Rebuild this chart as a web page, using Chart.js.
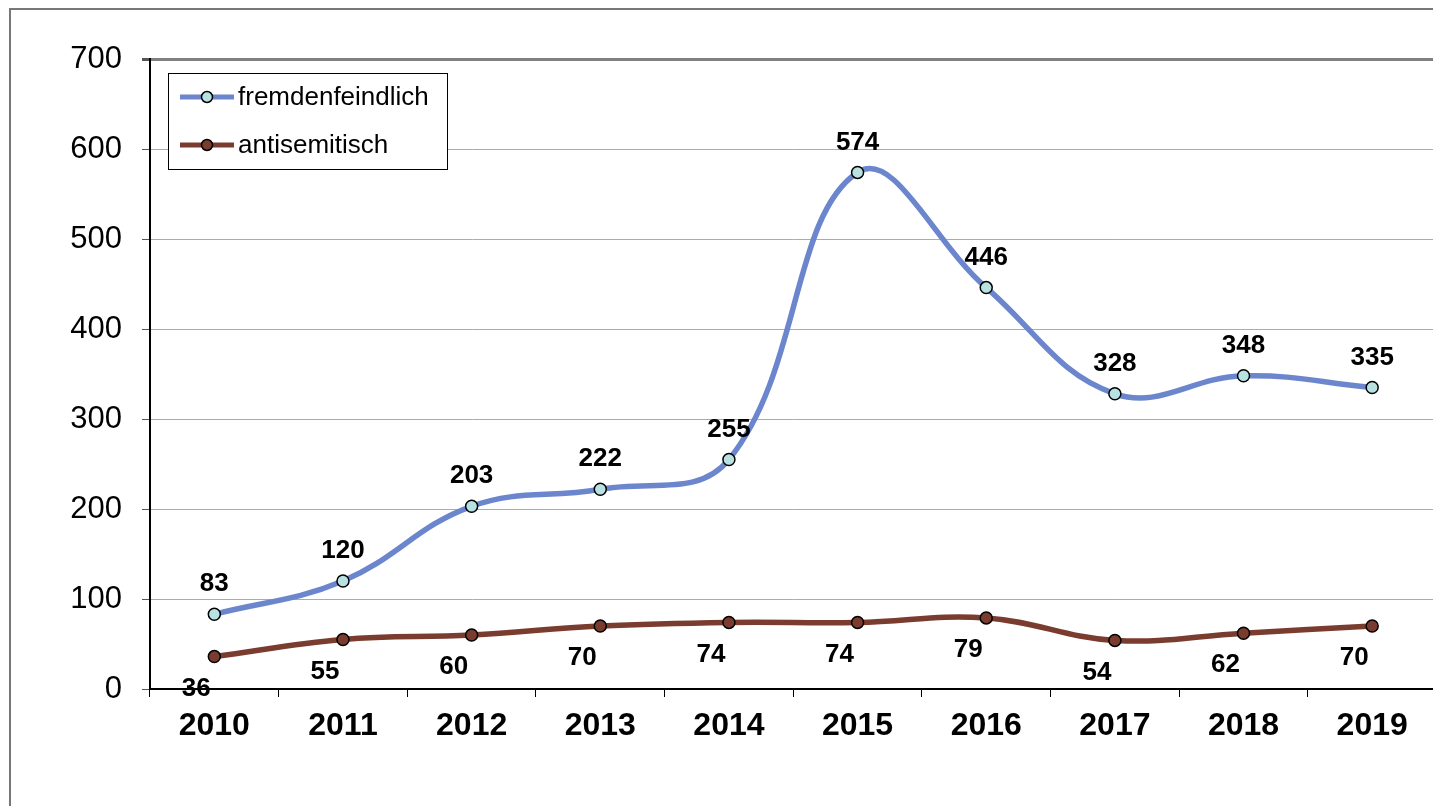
<!DOCTYPE html>
<html>
<head>
<meta charset="utf-8">
<script src="https://cdn.jsdelivr.net/npm/chart.js@4.4.1/dist/chart.umd.min.js"></script>
<style>
  html, body { margin: 0; padding: 0; background: #fff; overflow: hidden; }
  #wrap { position: absolute; left: 0; top: 0; width: 1444px; height: 806px; }
</style>
</head>
<body>
<div id="wrap"><canvas id="c" width="1444" height="806"></canvas></div>
<script>
'use strict';

var YEARS = ['2010', '2011', '2012', '2013', '2014', '2015', '2016', '2017', '2018', '2019'];
var FREMD = [83, 120, 203, 222, 255, 574, 446, 328, 348, 335];
var ANTI = [36, 55, 60, 70, 74, 74, 79, 54, 62, 70];
var SERIES_NAMES = ['fremdenfeindlich', 'antisemitisch'];
var Y_TICKS = [0, 100, 200, 300, 400, 500, 600, 700];

var FONT = 'Liberation Sans, Arial, sans-serif';
var BLUE = '#6C86CE', BLUE_FILL = '#B8E2E2';
var BROWN = '#7A3C2F';

// frame + white background
var framePlugin = {
  id: 'frame',
  beforeDraw: function (chart) {
    var ctx = chart.ctx;
    ctx.save();
    ctx.fillStyle = '#fff';
    ctx.fillRect(0, 0, chart.width, chart.height);
    ctx.strokeStyle = '#777';
    ctx.lineWidth = 2;
    ctx.beginPath();
    ctx.moveTo(10, chart.height);
    ctx.lineTo(10, 9);
    ctx.lineTo(chart.width, 9);
    ctx.stroke();
    ctx.restore();
  }
};

// value labels: blue above, brown below-left
var labelPlugin = {
  id: 'vlabels',
  afterDatasetsDraw: function (chart) {
    var ctx = chart.ctx;
    ctx.save();
    ctx.font = 'bold 26px ' + FONT;
    ctx.fillStyle = '#000';
    ctx.textAlign = 'center';
    ctx.textBaseline = 'middle';
    chart.data.datasets.forEach(function (ds, i) {
      var meta = chart.getDatasetMeta(i);
      meta.data.forEach(function (pt, j) {
        if (i === 0) ctx.fillText(String(ds.data[j]), pt.x, pt.y - 30);
        else ctx.fillText(String(ds.data[j]), pt.x - 18, pt.y + 32);
      });
    });
    ctx.restore();
  }
};

// legend box inside plot
var legendPlugin = {
  id: 'boxLegend',
  afterDraw: function (chart) {
    var ctx = chart.ctx;
    var ds = chart.data.datasets;
    ctx.save();
    ctx.fillStyle = '#fff';
    ctx.fillRect(168, 73, 279, 96);
    ctx.strokeStyle = '#000';
    ctx.lineWidth = 1;
    ctx.strokeRect(168.5, 73.5, 279, 96);
    ds.forEach(function (d, i) {
      var y = 97 + i * 48;
      ctx.strokeStyle = d.borderColor;
      ctx.lineWidth = 5;
      ctx.beginPath();
      ctx.moveTo(180, y);
      ctx.lineTo(234, y);
      ctx.stroke();
      ctx.beginPath();
      ctx.arc(207, y, 5.5, 0, Math.PI * 2);
      ctx.fillStyle = d.pointBackgroundColor;
      ctx.fill();
      ctx.lineWidth = 1.5;
      ctx.strokeStyle = '#000';
      ctx.stroke();
      ctx.fillStyle = '#000';
      ctx.font = '26px ' + FONT;
      ctx.textAlign = 'left';
      ctx.textBaseline = 'middle';
      ctx.fillText(d.label, 238, y + 1);
    });
    ctx.restore();
  }
};

new Chart(document.getElementById('c'), {
  type: 'line',
  data: {
    labels: YEARS,
    datasets: [
      {
        label: SERIES_NAMES[0],
        data: FREMD,
        borderColor: BLUE,
        borderWidth: 5.5,
        pointRadius: 6,
        pointBackgroundColor: BLUE_FILL,
        pointBorderColor: '#000',
        pointBorderWidth: 1.5,
        tension: 0.4,
        fill: false
      },
      {
        label: SERIES_NAMES[1],
        data: ANTI,
        borderColor: BROWN,
        borderWidth: 5.5,
        pointRadius: 6,
        pointBackgroundColor: BROWN,
        pointBorderColor: '#000',
        pointBorderWidth: 1.5,
        tension: 0.4,
        fill: false
      }
    ]
  },
  options: {
    responsive: false,
    animation: false,
    devicePixelRatio: 1,
    layout: { padding: { left: 0, top: 59, right: 3, bottom: 0 } },
    plugins: { legend: { display: false }, tooltip: { enabled: false } },
    scales: {
      x: {
        offset: true,
        grid: { offset: true, drawOnChartArea: false, tickLength: 8, tickColor: '#000', tickWidth: 1 },
        border: { color: '#000', width: 2 },
        ticks: { color: '#000', padding: 10, font: { family: FONT, size: 32, weight: 'bold' } },
        afterFit: function (s) { s.height = 117; }
      },
      y: {
        min: 0,
        max: 700,
        afterBuildTicks: function (s) { s.ticks = Y_TICKS.map(function (v) { return { value: v }; }); },
        grid: {
          color: function (c) { return c.tick && c.tick.value === 700 ? '#808080' : '#ABABAB'; },
          lineWidth: function (c) { return c.tick && c.tick.value === 700 ? 3 : 1; },
          tickLength: 8,
          tickColor: '#555'
        },
        border: { color: '#000', width: 2 },
        ticks: { color: '#000', padding: 20, font: { family: FONT, size: 31 } },
        afterFit: function (s) { s.width = 150; }
      }
    }
  },
  plugins: [framePlugin, labelPlugin, legendPlugin]
});
</script>
</body>
</html>
